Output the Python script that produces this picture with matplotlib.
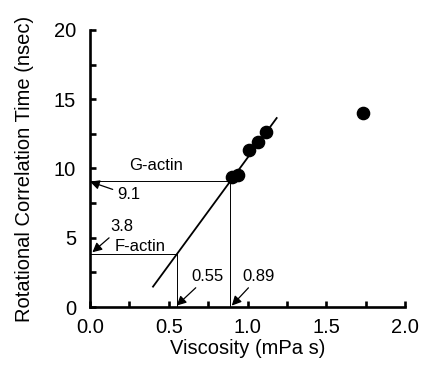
import matplotlib
matplotlib.use("Agg")
import matplotlib.pyplot as plt
from matplotlib.ticker import MultipleLocator, FormatStrFormatter

plt.rcParams["font.family"] = ["Liberation Sans", "DejaVu Sans"]

# measured points (viscosity, correlation time)
visc = [0.90, 0.94, 1.01, 1.065, 1.12, 1.735]
corr_time = [9.36, 9.53, 11.34, 11.88, 12.62, 14.0]

# fitted line end points
fit_x = [0.40, 1.185]
fit_y = [1.47, 13.64]

g_actin_visc, g_actin_time = 0.89, 9.1
f_actin_visc, f_actin_time = 0.55, 3.8

fig = plt.figure(figsize=(4.24, 3.66), dpi=100)
ax = fig.add_axes([0.2123, 0.1612, 0.743, 0.757])

ax.plot(fit_x, fit_y, color="black", linewidth=1.3)
ax.plot(visc, corr_time, "o", color="black", markersize=8.8)

# guide lines
for vx, vy in [(g_actin_visc, g_actin_time), (f_actin_visc, f_actin_time)]:
    ax.plot([0, vx], [vy, vy], color="black", linewidth=0.7)
    ax.plot([vx, vx], [0, vy], color="black", linewidth=0.7)

arrow = dict(arrowstyle="-|>", color="black", lw=0.9, mutation_scale=14,
             shrinkA=1, shrinkB=0)
fs = 12
ax.annotate("9.1", xy=(0.0, 9.05), xytext=(0.17, 8.1), fontsize=fs,
            va="center", ha="left", arrowprops=arrow)
ax.annotate("3.8", xy=(0.015, 3.95), xytext=(0.13, 5.8), fontsize=fs,
            va="center", ha="left", arrowprops=arrow)
ax.annotate("0.55", xy=(0.55, 0.1), xytext=(0.645, 2.2), fontsize=fs,
            va="center", ha="left", arrowprops=arrow)
ax.annotate("0.89", xy=(0.90, 0.1), xytext=(0.97, 2.2), fontsize=fs,
            va="center", ha="left", arrowprops=arrow)
ax.text(0.42, 10.2, "G-actin", fontsize=fs, ha="center", va="center")
ax.text(0.32, 4.4, "F-actin", fontsize=fs, ha="center", va="center")

ax.set_xlim(0, 2.0)
ax.set_ylim(0, 20)
ax.xaxis.set_major_locator(MultipleLocator(0.5))
ax.xaxis.set_minor_locator(MultipleLocator(0.25))
ax.yaxis.set_major_locator(MultipleLocator(5))
ax.yaxis.set_minor_locator(MultipleLocator(2.5))
ax.xaxis.set_major_formatter(FormatStrFormatter("%.1f"))

for side in ("top", "right"):
    ax.spines[side].set_visible(False)
for side in ("left", "bottom"):
    ax.spines[side].set_linewidth(1.9)

ax.tick_params(which="both", direction="in", width=1.9, length=4.5,
               labelsize=14.5, pad=8)
ax.tick_params(axis="y", pad=10)
ax.set_xlabel("Viscosity (mPa s)", fontsize=14.5, labelpad=1)
ax.set_ylabel("Rotational Correlation Time (nsec)", fontsize=14.5, labelpad=14)

fig.savefig("out.png", dpi=100)
